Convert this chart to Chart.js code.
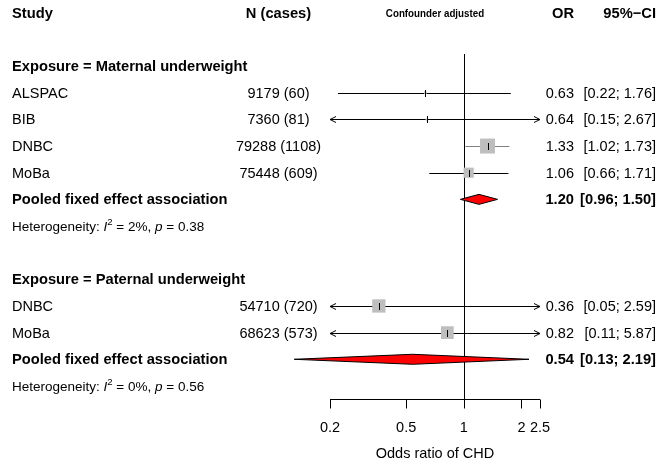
<!DOCTYPE html>
<html>
<head>
<meta charset="utf-8">
<script src="https://cdn.jsdelivr.net/npm/chart.js@4.4.1/dist/chart.umd.min.js"></script>
<style>
  html, body { margin: 0; padding: 0; background: #fff; }
</style>
</head>
<body>
<canvas id="forest" width="660" height="465"></canvas>
<script>
// Maternal underweight studies
const maternalStudies = ['ALSPAC', 'BIB', 'DNBC', 'MoBa'];
const maternalCases = ['9179 (60)', '7360 (81)', '79288 (1108)', '75448 (609)'];
const maternalOR = [0.63, 0.64, 1.33, 1.06];
const maternalLower = [0.22, 0.15, 1.02, 0.66];
const maternalUpper = [1.76, 2.67, 1.73, 1.71];
const maternalWeight = [2, 1.5, 66, 30.5];
const maternalPooled = [1.20, 0.96, 1.50];   // OR, lower, upper
const maternalHet = ['2%', '0.38'];          // I2, p

// Paternal underweight studies
const paternalStudies = ['DNBC', 'MoBa'];
const paternalCases = ['54710 (720)', '68623 (573)'];
const paternalOR = [0.36, 0.82];
const paternalLower = [0.05, 0.11];
const paternalUpper = [2.59, 5.87];
const paternalWeight = [52, 48];
const paternalPooled = [0.54, 0.13, 2.19];
const paternalHet = ['0%', '0.56'];

// x axis
const xTicks = [0.2, 0.5, 1, 2, 2.5];
const xTickLabels = ['0.2', '0.5', '1', '2', '2.5'];
const xMin = 0.2;
const xMax = 2.5;

const FONT = '"Liberation Sans", Arial, Helvetica, sans-serif';
const REG = '14.5px ' + FONT;
const BOLD = 'bold 14.7px ' + FONT;

// build the row list (one row per line of the plot)
const rows = [];
function addGroup(title, studies, cases, or, lo, hi, w, pooled, het) {
  rows.push({ kind: 'group', label: title });
  studies.forEach((s, i) => {
    rows.push({ kind: 'study', label: s, n: cases[i], or: or[i], lo: lo[i], hi: hi[i], w: w[i] });
  });
  rows.push({ kind: 'pooled', label: 'Pooled fixed effect association', or: pooled[0], lo: pooled[1], hi: pooled[2] });
  rows.push({ kind: 'het', i2: het[0], p: het[1] });
}
addGroup('Exposure = Maternal underweight', maternalStudies, maternalCases, maternalOR,
  maternalLower, maternalUpper, maternalWeight, maternalPooled, maternalHet);
rows.push({ kind: 'blank' });
addGroup('Exposure = Paternal underweight', paternalStudies, paternalCases, paternalOR,
  paternalLower, paternalUpper, paternalWeight, paternalPooled, paternalHet);
rows.forEach((r, i) => { r.y = i; });

const studyRows = rows.filter(r => r.kind === 'study');
const pointData = studyRows.map(r => ({ x: r.or, y: r.y }));
const squareRadius = studyRows.map(r => 18.4 * Math.sqrt(r.w / 100) / Math.SQRT2);

function fmt(v) { return v.toFixed(2); }

function arrowHead(ctx, x, y, dir) {
  ctx.beginPath();
  ctx.moveTo(x - dir * 6, y - 3);
  ctx.lineTo(x, y);
  ctx.lineTo(x - dir * 6, y + 3);
  ctx.stroke();
}

const forestPlugin = {
  id: 'forest',
  beforeDatasetsDraw(chart) {
    const { ctx, chartArea, scales: { x, y } } = chart;
    ctx.save();
    // reference line at OR = 1
    ctx.strokeStyle = '#000';
    ctx.lineWidth = 1;
    ctx.beginPath();
    ctx.moveTo(Math.round(x.getPixelForValue(1)) + 0.5, chartArea.top);
    ctx.lineTo(Math.round(x.getPixelForValue(1)) + 0.5, chartArea.bottom);
    ctx.stroke();

    // confidence intervals
    studyRows.forEach(r => {
      const py = Math.round(y.getPixelForValue(r.y)) + 0.5;
      const x0 = x.getPixelForValue(Math.max(r.lo, xMin));
      const x1 = x.getPixelForValue(Math.min(r.hi, xMax));
      ctx.strokeStyle = (r.lo > 1) ? '#808080' : '#000';
      ctx.beginPath();
      ctx.moveTo(x0, py);
      ctx.lineTo(x1, py);
      ctx.stroke();
      ctx.strokeStyle = '#000';
      if (r.lo < xMin) arrowHead(ctx, x0, py, -1);
      if (r.hi > xMax) arrowHead(ctx, x1, py, 1);
    });

    // pooled diamonds
    rows.filter(r => r.kind === 'pooled').forEach(r => {
      const py = y.getPixelForValue(r.y);
      ctx.beginPath();
      ctx.moveTo(x.getPixelForValue(r.lo), py);
      ctx.lineTo(x.getPixelForValue(r.or), py - 5);
      ctx.lineTo(x.getPixelForValue(r.hi), py);
      ctx.lineTo(x.getPixelForValue(r.or), py + 5);
      ctx.closePath();
      ctx.fillStyle = '#ff0000';
      ctx.fill();
      ctx.strokeStyle = '#000';
      ctx.stroke();
    });
    ctx.restore();
  },
  afterDatasetsDraw(chart) {
    // small vertical tick at each point estimate, on top of the squares
    const { ctx, scales: { x, y } } = chart;
    ctx.save();
    ctx.strokeStyle = '#000';
    ctx.lineWidth = 1;
    ctx.beginPath();
    studyRows.forEach(r => {
      const px = Math.round(x.getPixelForValue(r.or)) + 0.5;
      const py = Math.round(y.getPixelForValue(r.y));
      ctx.moveTo(px, py - 3);
      ctx.lineTo(px, py + 4);
    });
    ctx.stroke();
    ctx.restore();
  },
  afterDraw(chart) {
    const { ctx, chartArea, scales: { x, y } } = chart;
    ctx.save();
    ctx.fillStyle = '#000';
    ctx.textBaseline = 'middle';
    const colStudy = 12;
    const colN = 278.5;
    const colMid = (chartArea.left + chartArea.right) / 2;
    const colOR = 574;
    const colCI = 656;
    const dy = 1;

    // header
    const hy = y.getPixelForValue(-2) + dy;
    ctx.font = BOLD;
    ctx.textAlign = 'left';
    ctx.fillText('Study', colStudy, hy);
    ctx.textAlign = 'center';
    ctx.fillText('N (cases)', colN, hy);
    ctx.textAlign = 'right';
    ctx.fillText('OR', colOR, hy);
    ctx.fillText('95%\u2212CI', colCI, hy);
    // condensed small header over the plot
    ctx.save();
    ctx.font = 'bold 11.5px ' + FONT;
    ctx.textAlign = 'center';
    ctx.translate(colMid, hy);
    ctx.scale(0.85, 1);
    ctx.fillText('Confounder adjusted', 0, 0);
    ctx.restore();

    rows.forEach(r => {
      const py = y.getPixelForValue(r.y) + dy;
      if (r.kind === 'group') {
        ctx.font = BOLD;
        ctx.textAlign = 'left';
        ctx.fillText(r.label, colStudy, py);
      } else if (r.kind === 'study') {
        ctx.font = REG;
        ctx.textAlign = 'left';
        ctx.fillText(r.label, colStudy, py);
        ctx.textAlign = 'center';
        ctx.fillText(r.n, colN, py);
        ctx.textAlign = 'right';
        ctx.fillText(fmt(r.or), colOR, py);
        ctx.fillText('[' + fmt(r.lo) + '; ' + fmt(r.hi) + ']', colCI, py);
      } else if (r.kind === 'pooled') {
        ctx.font = BOLD;
        ctx.textAlign = 'left';
        ctx.fillText(r.label, colStudy, py);
        ctx.textAlign = 'right';
        ctx.fillText(fmt(r.or), colOR, py);
        ctx.fillText('[' + fmt(r.lo) + '; ' + fmt(r.hi) + ']', colCI, py);
      } else if (r.kind === 'het') {
        ctx.textAlign = 'left';
        let cx = colStudy;
        const piece = (txt, font, off) => {
          ctx.font = font;
          ctx.fillText(txt, cx, py + (off || 0));
          cx += ctx.measureText(txt).width;
        };
        piece('Heterogeneity: ', '13.5px ' + FONT);
        piece('I', 'italic 13.5px ' + FONT);
        piece('2', '9.5px ' + FONT, -5);
        piece(' = ' + r.i2 + ', ', '13.5px ' + FONT);
        piece('p', 'italic 13.5px ' + FONT);
        piece(' = ' + r.p, '13.5px ' + FONT);
      }
    });

    // x axis
    const ay = Math.round(chartArea.bottom) + 0.5;
    ctx.strokeStyle = '#000';
    ctx.lineWidth = 1;
    ctx.beginPath();
    ctx.moveTo(x.getPixelForValue(xMin), ay);
    ctx.lineTo(x.getPixelForValue(xMax), ay);
    xTicks.forEach(t => {
      const tx = Math.round(x.getPixelForValue(t)) + 0.5;
      ctx.moveTo(tx, ay);
      ctx.lineTo(tx, ay + 9);
    });
    ctx.stroke();
    ctx.font = REG;
    ctx.textAlign = 'center';
    xTicks.forEach((t, i) => {
      ctx.fillText(xTickLabels[i], x.getPixelForValue(t), ay + 28);
    });
    ctx.fillText('Odds ratio of CHD', colMid, ay + 54);
    ctx.restore();
  }
};

new Chart(document.getElementById('forest'), {
  type: 'scatter',
  data: {
    datasets: [
      {
        label: 'weight',
        data: pointData,
        pointStyle: 'rect',
        pointRadius: squareRadius,
        pointHoverRadius: squareRadius,
        backgroundColor: '#bebebe',
        borderWidth: 0
      }
    ]
  },
  options: {
    responsive: false,
    animation: false,
    devicePixelRatio: 1,
    layout: { padding: { left: 330, right: 120, top: 54, bottom: 66 } },
    plugins: { legend: { display: false }, tooltip: { enabled: false } },
    scales: {
      x: { type: 'logarithmic', min: xMin, max: xMax, display: false },
      y: { type: 'linear', reverse: true, min: -0.454, max: 12.49, display: false }
    }
  },
  plugins: [forestPlugin]
});
</script>
</body>
</html>
